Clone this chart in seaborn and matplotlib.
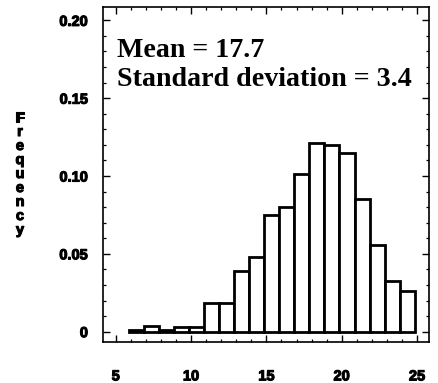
import numpy as np
import pandas as pd
import matplotlib
matplotlib.use("Agg")
import matplotlib.pyplot as plt
import matplotlib.patheffects as pe
from matplotlib.ticker import MultipleLocator, FixedLocator
import seaborn as sns

# ---- data ----
bin_edges = [5.85, 6.85, 7.85, 8.85, 9.85, 10.85, 11.85, 12.85, 13.85, 14.85,
             15.85, 16.85, 17.85, 18.85, 19.85, 20.85, 21.85, 22.85, 23.85, 24.85]
bin_centers = [6.35, 7.35, 8.35, 9.35, 10.35, 11.35, 12.35, 13.35, 14.35, 15.35,
               16.35, 17.35, 18.35, 19.35, 20.35, 21.35, 22.35, 23.35, 24.35]
frequencies = [0.001, 0.0035, 0.001, 0.003, 0.003, 0.0185, 0.0185, 0.039, 0.048, 0.075,
               0.080, 0.101, 0.1215, 0.120, 0.115, 0.085, 0.056, 0.0325, 0.026]
x_ticks = [5, 10, 15, 20, 25]
x_tick_labels = ["5", "10", "15", "20", "25"]
y_ticks = [0, 0.05, 0.10, 0.15, 0.20]
y_tick_labels = ["0", "0.05", "0.10", "0.15", "0.20"]
stats_text = ["Mean = 17.7", "Standard deviation = 3.4"]
y_label = "Frequency"

df = pd.DataFrame({"value": bin_centers, "freq": frequencies})

sns.set_theme(style="ticks")
plt.rcParams["font.family"] = ["Liberation Sans", "DejaVu Sans"]
plt.rcParams["text.color"] = "black"
plt.rcParams["xtick.color"] = "black"
plt.rcParams["ytick.color"] = "black"

fig = plt.figure(figsize=(4.38, 3.83), dpi=100)
ax = fig.add_axes([0.236, 0.108, 0.743, 0.873])

sns.histplot(data=df, x="value", weights="freq", bins=bin_edges, stat="count",
             ax=ax, color="white", edgecolor="black", linewidth=2.0, alpha=1.0)

ax.set_xlim(4.18, 25.78)
ax.set_ylim(-0.0064, 0.2084)

ax.xaxis.set_major_locator(FixedLocator(x_ticks))
ax.set_xticklabels(x_tick_labels)
ax.yaxis.set_major_locator(FixedLocator(y_ticks))
ax.set_yticklabels(y_tick_labels)
ax.xaxis.set_minor_locator(MultipleLocator(1))
ax.yaxis.set_minor_locator(MultipleLocator(0.01))

ax.tick_params(which="both", direction="in", top=True, right=True, color="black")
ax.tick_params(which="major", length=5, width=1.0)
ax.tick_params(which="minor", length=2.5, width=0.9)
ax.tick_params(axis="x", which="major", pad=20, labelsize=10.5, labelcolor="black")
ax.tick_params(axis="y", which="major", pad=11, labelsize=10.5, labelcolor="black")
stroke = [pe.withStroke(linewidth=0.8, foreground="black")]
for lab in ax.get_xticklabels() + ax.get_yticklabels():
    lab.set_fontweight("bold")
    lab.set_path_effects(stroke)

for sp in ax.spines.values():
    sp.set_visible(True)
    sp.set_linewidth(1.2)
    sp.set_color("black")

ax.set_xlabel("")
ax.set_ylabel("")

# stats annotation
serif = ["Liberation Serif", "DejaVu Serif"]
ax.text(5.08, 0.1766, stats_text[0], family=serif, fontweight="bold",
        fontsize=20.2, va="baseline", ha="left", color="black")
ax.text(5.08, 0.1580, stats_text[1], family=serif, fontweight="bold",
        fontsize=20.2, va="baseline", ha="left", color="black")

# vertical stacked y label
fig.text(20 / 438, 1 - 174 / 383, "\n".join(y_label), ha="center", va="center",
         fontsize=10.5, fontweight="bold", linespacing=1.0, color="black",
         path_effects=stroke)

fig.savefig("out.png", dpi=100)
